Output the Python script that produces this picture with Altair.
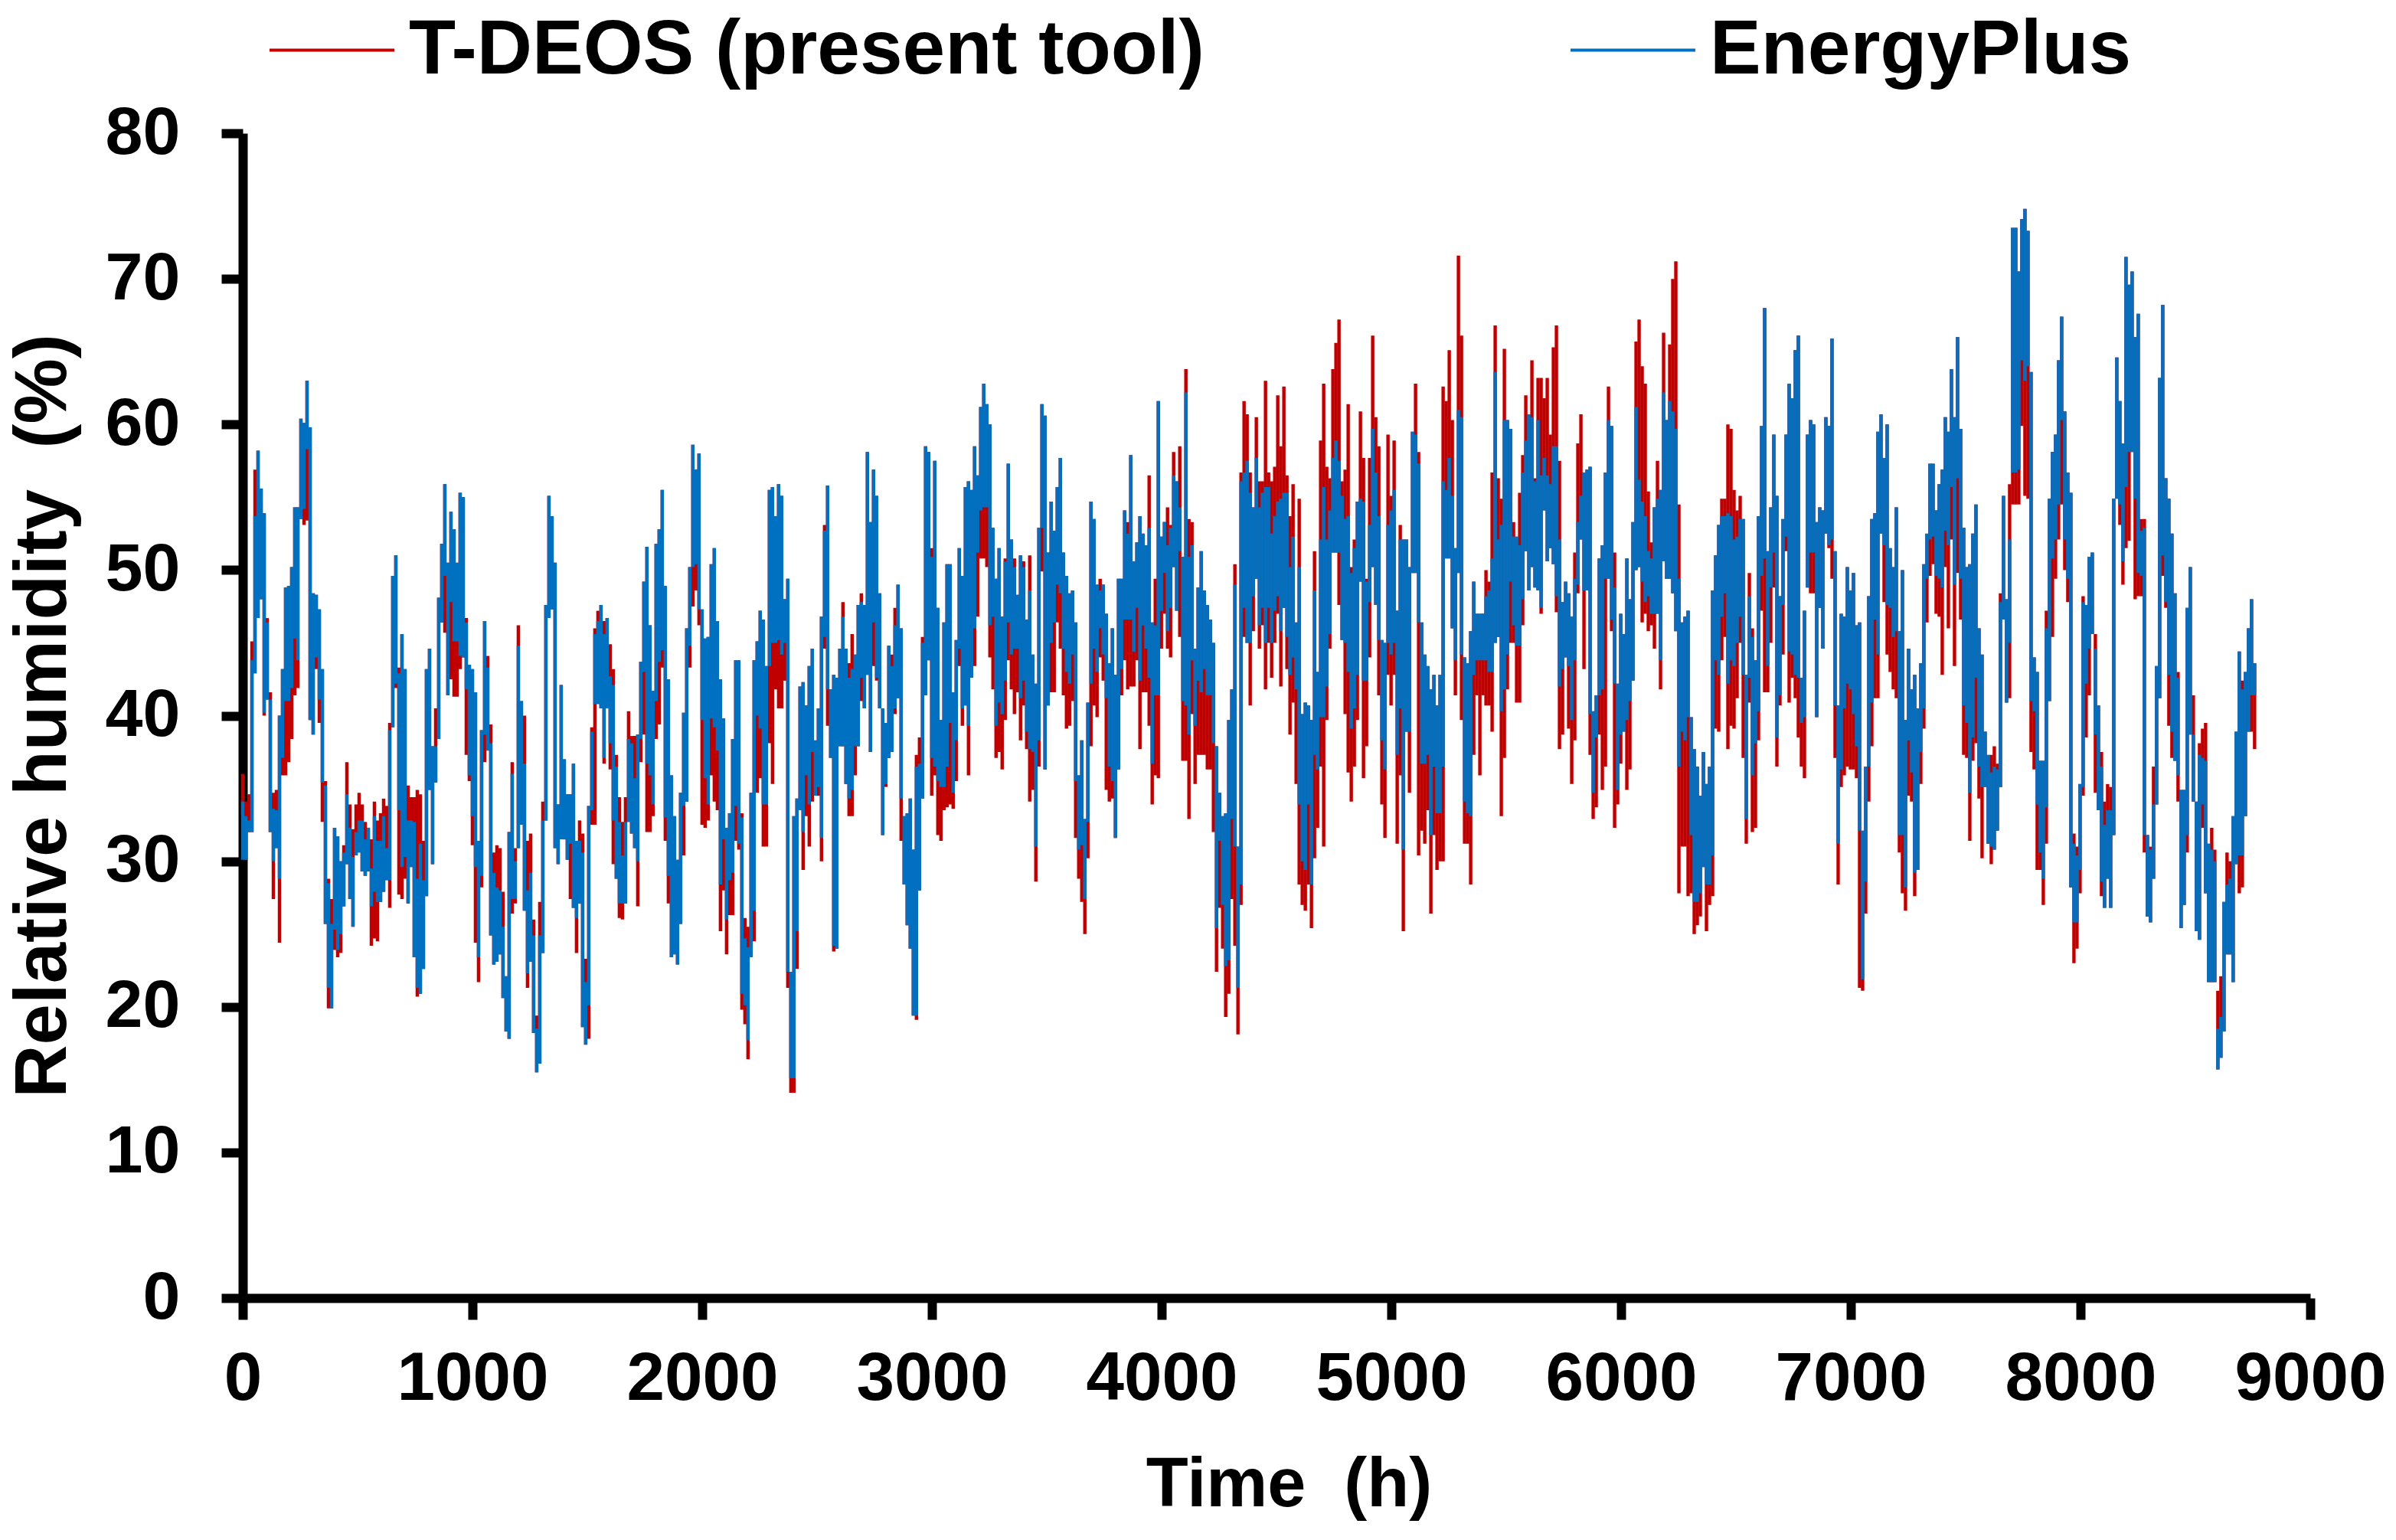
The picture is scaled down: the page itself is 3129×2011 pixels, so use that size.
import altair as alt
import pandas as pd

N = None
# each row: EnergyPlus high, EnergyPlus low, T-DEOS high, T-DEOS low (N = inside the EnergyPlus span)
seg1 = [(34.1,30.1,36,33.2),(33.1,30.1,34.1,N),(32.8,32,34.6,N),(43.8,32,45.1,N),(53.7,42.9,56.9,N),(58.2,46.7,N,N),(55.6,48,N,N),(53.9,40.2,N,40),(46.4,41.1,46.7,N),(41.1,32,41.6,N),
(33.6,30,34.7,27.4),(33.5,30.9,34.9,N),(40,28.8,N,24.4),(43.2,37.1,N,35.9),(48.8,41,N,35.9),(48.9,41,N,36.8),(50.2,41.9,N,38.4),(54.3,45.3,N,41.4),(54.3,43.8,N,41.9),(60.4,53.5,N,N),
(60.1,54.2,N,53.1),(63,58.3,N,53.4),(59.8,39.7,N,N),(48.4,38.7,N,N),(48.3,44,N,43.2),(47.3,41.1,N,39.5),(43.2,35.4,N,32.7),(35.2,25.7,35.5,N),(28.5,21.3,28.8,19.9),(25.7,19.9,27.4,N),
(32.3,25.3,N,23.9),(31.7,23.9,N,23.4),(30,25,N,23.7),(30.6,26.9,31.1,N),(34.6,29.8,36.8,N),(32.3,27.4,33.9,N),(30.3,25.5,32.2,N),(32,30.4,33.9,N),(32.8,30.6,34.7,N),(32.8,29.3,33.9,N),
(31.5,29,32.7,N),(32.3,29.3,N,N),(29.5,26.9,31.5,24.2),(33.1,27.9,34.1,24.7),(31.4,27.2,32.8,24.5),(31.4,27.2,33.3,N),(33.1,27.9,34.3,N),(30.9,28.7,33.8,N),(39,28.7,39.5,26.8),(49.6,39.2,N,N),
(51,42.2,N,41.9),(42.9,33.5,43.3,27.7),(45.6,29.6,N,27.4),(43.2,30.3,N,28.8),(32.8,27.1,35.2,N),(32.8,29.6,34.4,N),(32.7,23.4,34.4,N),(28.8,21.3,34.9,20.7),(31.2,20.9,34.6,N),(28.7,22.6,31.4,N),
(43.2,27.6,N,N),(44.6,34.9,N,N),(37.9,29.8,N,N),(37.9,35.4,40.5,N),(48.1,38.4,N,N),(51.8,46.4,N,N),(55.9,49.6,N,45.7),(50.5,41.4,N,N),(54,47.8,N,42.5),(52.8,45.1,N,41.3),
(50.5,45.1,N,41.3),(55.3,44.1,N,43.2),(55,44,N,N),(46.4,41.8,46.7,37.3),(43.5,35.9,N,35.5),(43.2,33.1,N,31.1),(41.6,29.6,N,24.4),(31.4,23.4,N,21.7),(39,29,N,28.2),(46.5,38.7,N,36.8),
(43.3,37.6,44.1,N),(38.1,24.9,39.4,N),(29.2,22.9,30.6,N),(28.2,23.1,31.1,N),(28,23.6,30.9,N)]

seg2 = [(25.5,20.6,27.9,N),(22.1,18.3,N,N),(32,17.8,N,N),(36,27.4,36.8,26.4),(30,27.4,30.9,27.1),(44.8,30.9,46.2,N),(41,32.5,N,N),(36.7,26.6,40,N),(28,22.3,31.4,21.3),(29.2,23.1,31.9,N),
(24.9,18.2,26,N),(18.5,15.5,19.4,N),(24.9,16.1,27.2,N),(32.8,23.7,34.1,N),(47.6,32.8,N,N),(55.1,46.7,N,N),(53.7,47.3,N,N),(50.5,30.9,N,N),(33.9,29.8,N,N),(42.1,31.5,N,N),
(37,31.5,N,N),(34.6,30.1,N,N),(34.6,31.2,N,27.4),(36.7,26.8,N,N),(31.4,26.1,N,23.7),(31.4,27.1,32.8,N),(30.6,18.6,31.9,N),(21.7,17.4,23.3,N),(33.8,20.1,N,17.8),(38.9,33.5,39.2,32.5),
(45.6,40.8,46,32.5),(46.5,40.8,47.2,N),(47.6,40.5,N,N),(45.6,37.1,46.5,36.7),(46.7,40.5,N,N),(42.7,38.1,44.9,36.3),(42.1,32.8,43.2,29.8),(36.5,28.8,37.3,N),(32.7,27.1,34.4,26.1),(30.4,27.1,32.7,26),
(32.7,27.1,34.4,N),(38.4,32.7,40.3,N),(38.1,31.9,38.6,N),(35.7,30.9,38.6,N),(38.7,30,N,26.9),(43.7,38.4,N,36.8),(49.2,43,N,38.7),(51.6,36.7,N,32),(46.2,35.9,N,32),(41.7,33.9,N,33.1),
(51.8,41,N,38.4),(52.8,43.7,N,39.4),(55.5,44.5,N,43.3),(48.9,33,N,31.4),(42.5,29,N,27.1),(35.9,23.4,N,N),(33.1,23.6,N,N),(30.1,22.9,N,N),(34.7,25.7,N,N),(40.2,33.8,N,30.4),
(46,34.1,N,N),(50.2,44.8,N,43.3),(58.6,50.2,N,47.5),(56.9,50.4,N,48.6),(58,47.3,N,46.2),(47.3,39.7,N,32.5),(45.3,35.7,N,32.3),(45.4,33.9,N,32.8),(50.4,39.8,N,35.9),(51.5,39.2,N,34.1),
(46.5,37.6,N,33.5),(42.5,28.4,N,25.2),(39.8,31.5,N,28),(32.3,26,N,23.6),(33.3,28.7,N,26.3),(38.4,29.2,N,26.3),(43.8,33.8,N,31.4),(43.8,31.2,N,30.8),(33,20.9,33.3,19.8),(24.7,20.1,26.1,18.8),
(24.1,17.7,25.5,16.4),(34.7,23.4,N,N),(43.8,26.6,N,24.5),(45.1,40,N,34.7)]

seg3 = [(47.2,39.1,N,35.7),(46.6,33.9,N,31),(43.4,33.9,N,31),(55.5,43.4,N,38.1),(55.7,45,N,35.3),(53.7,45,N,41.8),(55.9,45.2,N,40.5),(55.1,44.2,N,40.5),(48,45,N,42.4),(49.4,22.4,N,21.3),
(22.4,15.1,N,14.1),(33.1,15.1,N,14.1),(34.3,25.2,N,22.6),(42,33.5,N,N),(42.3,32,N,29.4),(40.7,35.9,N,33.1),(43.4,33.9,N,31),(44.6,37.5,N,34.1),(38.3,34.5,N,N),(40.5,35.1,N,34.5),
(46.8,31.6,N,30),(52.7,45.4,53.1,44.6),(55.8,41.8,N,39.3),(41.8,37.1,N,N),(42.8,24.2,N,23.8),(42.6,24,N,N),(44.6,37.9,N,N),(46.8,37.9,47.8,N),(44.6,35.3,N,N),(42.6,34.3,43.6,33.1),
(43.2,34.9,45.6,33.1),(44.2,37.9,N,35.9),(47.6,37.9,N,N),(47.8,42.6,48.4,41),(47.6,40.5,N,N),(58.1,42.8,N,N),(53.3,37.5,N,N),(56.9,46.4,N,43.4),(55.1,42.6,N,42.4),(48.4,40.5,N,N),
(40.5,31.8,N,N),(39.5,35.3,N,35.1),(44.8,37.1,N,N),(43.4,37.5,44.2,N),(46.2,40.5,47.4,40.1),(49,41.2,N,N),(46,34.3,N,31.4),(33.1,28.4,N,N),(33.3,25.6,N,N),(34.3,24,N,N),
(30.8,19.4,N,N),(36.5,19.4,37.3,19.1),(36.7,28,38.5,N),(45,34.3,45.4,N),(58.5,41.4,N,N),(58.1,43.8,N,N),(50.9,37.1,51.5,34.5),(57.5,36.5,N,35.9),(47.4,35.5,N,31.8),(39.7,35.1,N,31.4),
(46.4,35.1,N,33.5),(50.4,36.5,N,33.7),(50.4,39.5,N,33.9),(41.6,34.7,N,33.6),(45.2,38.3,N,35.5),(51.5,44.6,N,43.4),(49.6,40.5,N,39.3),(55.7,40.7,N,N),(56.1,39.3,N,35.9),(55.5,42.6,N,N),
(58.5,46,N,43.4),(56.5,51.2,N,46.8),(61.2,54.1,N,50.8),(62.8,54.3,N,50.8),(61.4,54.3,N,50.2),(60,46.2,N,44),(52.9,46.8,N,41.8),(49.4,39.3,N,37.1),(51.5,40.9,N,37.5),(46.8,40.1,N,36.3),
(50.6,42.4,50.8,39.7),(57.3,46.4,N,43.8),(52.1,44.2,N,41.8),(50.2,44.6,50.8,40.1),(48.3,44.6,N,41.6),(51,41.2,N,38.3),(50.2,42.4,50.6,40.7),(46.6,38.9,N,37.7),(48.6,37.7,51,34.1),(44.2,37.5,N,34.9),
(42.2,31,N,28.6),(52.9,38.3,N,36.5),(61.4,52.9,N,49.9),(60.6,36.3,N,N),(51.2,40.7,N,N),(54.7,45,N,41.6),(52.7,46.4,N,41.6),(55.7,49,N,46.4),(57.7,48.4,N,44.6),(51.2,44.6,N,41.4),
(49.6,43,N,39.1),(48.4,42.2,N,39.3),(48.6,44.2,N,41),(46.4,35.5,N,31.6),(35.9,30.8,N,28.8),(38.3,31.1,N,27.2),(32.9,27.4,N,25),(40.9,32.7,N,30.2),(54.7,42.2,N,37.9),(53.5,44.6,N,40.7),
(49,43,N,39.9),(48.6,46,49.4,44),(49,44.2,N,42.4),(47,41.2,N,34.9),(43.6,36.5,N,34.1),(46,35.5,N,34.3),(42.8,31.6,N,N),(49.4,36.3,N,N),(49.4,43.2,N,41.4),(54.1,46.6,N,43.8),
(52.5,46.6,53.3,41.8),(57.9,46.6,N,42),(50.6,44.4,N,42)]

seg4 = [(51.9,47.4,N,43.8),(53.7,42.4,N,37.7),(52.5,46.2,N,41.6),(51.7,44.6,N,41.6),(52.9,42.6,56.5,39.3),(46.4,36.7,N,33.9),(46.2,41.4,49.4,35.9),(61.6,41.4,N,35.7),(52.3,47.2,N,44.6),(53.3,49.8,N,47),
(51.7,45.8,54.3,44.6),(52.9,47.4,53.1,44),(56.5,50.2,58.1,N),(56.1,47.2,N,N),(54.3,51.3,58.5,45.4),(50.9,41,N,36.9),(62.2,40.7,63.8,36.9),(50.9,38.7,53.5,32.9),(51.7,43.8,53.3,40.1),(44.6,39.3,N,35.3),
(48.8,42.4,N,37.3),(51.3,41.6,N,37.3),(48.6,43.2,N,37.3),(47.6,41.4,N,36.3),(46.6,41.4,N,36.3),(45,38.1,N,32),(37.9,25.4,N,22.4),(34.7,31.4,N,26.8),(33.1,27,N,24),(33.3,22.8,N,19.3),
(39.7,23.2,N,20.9),(41.8,32.9,N,27.4),(49,31,50.4,24.2),(31,21.3,N,18.1),(56.1,28.4,56.7,27),(56.7,47.4,61.6,45.4),(57.5,45,60.7,N),(55.3,45,56.7,40.7),(54.3,48.2,N,45.8),(57.7,49.4,60.5,N),
(54.3,46.2,56.1,44.6),(55.3,47.4,56.1,46.2),(55.7,45,63,41.8),(55.7,47.4,56.7,45),(52.5,45,56.1,42.6),(53.7,47.2,57.1,45),(54.7,48.2,62,47),(54.9,45.8,58.5,42),(55.3,47.4,62.6,N),(55.3,45.4,56.5,43.2),
(50.2,42.8,53.7,38.7),(52.3,44,55.9,40.9),(46.4,41.8,N,35.3),(50.2,33.9,54.9,28.4),(40.1,30,N,27),(40.9,29.4,N,26.6),(40.7,33.9,N,28.4),(39.7,28.4,N,25.4),(48.6,37.3,51.3,30.2),(43,36.3,N,32.3),
(52.1,39.9,58.9,36.5),(55.7,39.9,62.8,31),(52.1,42,57.1,39.7),(54.1,45.6,56.3,44.6),(57.7,51.2,63.8,N),(58.9,51.2,65.6,N),(57.5,51.2,67.2,47.6),(55.1,45.2,56.1,N),(53.5,45,56.9,40.1),(53.7,43,61.4,36.1),
(49.8,39.1,50.2,34.1),(51.5,40.5,52.1,36.5),(54.7,42.8,N,39.7),(54.9,49.2,60.9,N),(54.7,42.4,57.7,35.7),(49.2,42.4,49.4,37.9),(53.1,47.8,57.7,44),(59.7,50.2,66.1,N),(56.7,47.6,60.5,N),(53.7,45.2,58.5,41.4),
(45.2,38.3,N,33.9),(45,36.3,N,31.6),(53.1,45,59.3,42.8),(54.1,44.2,55.1,40.7),(55.5,45,58.9,42.8),(47.2,37.3,N,31.2),(52.1,40.5,53.1,35.9),(52.1,30.8,N,25.2),(52.1,38.9,N,N),(50.2,38.9,N,34.7),
(59.5,49.8,N,N),(59.3,49.8,62.8,N),(57.3,46.4,58.1,30.4),(46.4,36.7,N,32.1),(44.2,36.7,N,31.2),(43.4,37.3,N,33.5),(41.8,31.8,N,26.4),(42.8,36.5,N,31.8),(40.7,33.3,N,29.4),(42.8,33.3,N,30),
(56.1,36.5,62.6,30),(55.5,50.8,61.6,N),(57.7,50.8,65.1,N),(55.1,46,60.3,N),(51.5,43.8,N,41.4),(61,49.8,71.6,N),(60.5,44.2,66.1,39.7),(44,34.1,N,31.2),(43.6,33.3,N,31.2),(45.8,33.1,N,28.4),
(49.2,42.8,N,37.3),(47,43.8,N,41.4),(47,43.8,N,35.9),(47,43.8,N,41.4),(48.2,43.8,50,40.7),(48.6,43,49.2,40.7),(50.8,43,56.7,38.9),(63.6,45,66.8,N),(52.1,45.4,56.3,N),(53.1,40.3,54.9,33.1),
(60.3,41.8,65.2,37.1),(60.3,44.2,N,41.8),(59.7,49.2,N,45)]

seg5 = [(52.3,46.2,53.3,45),(52.3,44.8,N,40.9),(51.7,44.8,55.3,40.9),(56.7,48,57.9,46.2),(58.9,51.3,62,N),(60.7,48.6,N,N),(60.5,50.2,64.4,N),(56.1,48.8,56.3,N),(60.3,48.6,63.2,N),(56.5,47.4,63.2,47),
(57.7,54.1,61.8,N),(56.5,50.6,63.2,N),(55.9,51.5,59.3,N),(58.5,50.4,65.3,N),(58.5,48.2,66.8,47.1),(52.1,42,57.5,37.7),(47.8,43.2,N,38.7),(49.2,44,N,N),(48.4,43.4,N,39.1),(46.8,39.7,N,35.3),
(49.4,43.8,51.2,38.3),(53.3,49,58.7,48.4),(55.1,52.1,60.7,N),(56.7,48.6,N,43.2),(56.9,48.6,N,N),(57.1,40.1,N,37.3),(40.3,34.7,N,32.9),(41.4,38.5,N,33.7),(50.8,41.4,N,38.7),(51.7,41.8,N,34.9),
(56.7,49.4,N,36.5),(60.3,49.4,62.6,N),(59.9,46.6,N,45.8),(48.8,42.2,51.2,32.3),(42.2,34.9,N,33.9),(47,38.7,N,36.7),(45.6,38.9,N,N),(50.8,39.7,N,34.9),(48,41,N,36.3),(53.3,42.4,N,N),
(61.2,50,65.7,N),(56.2,50.2,67.2,N),(54.7,49.2,64,46.4),(53.7,47.8,62.8,47),(51.3,48.2,55.4,45.8),(50.8,47,51.9,46.2),(54.3,47,N,44.6),(54.9,47,57.5,N),(55.5,43.8,N,41.8),(62.2,50.6,66.3,N),
(60.3,49.4,N,N),(61.6,49.4,65.5,N),(60.9,48.4,70,N),(59.7,45.8,71.2,N),(49.4,36.5,54.5,27.8),(46.4,38.9,N,31),(46.8,38.3,N,31),(47.2,39.9,N,27.6),(39.9,31.8,N,27.8),(37.7,27.2,N,25),
(36.5,27.2,N,25.6),(34.5,27.8,N,26.2),(37.5,29.6,N,N),(35.3,28.4,N,25.2),(36.5,28.4,N,27),(48.6,30.4,N,27.6),(51,43.8,N,39.1),(53.1,42.8,N,38.9),(53.7,46.8,54.9,43.8),(53.7,48.4,54.9,45.4),
(53.9,42.2,60,37.7),(53.7,43.8,59.7,39.3),(52.1,43.4,55.5,39.1),(52.3,45,54.1,41.2),(53.5,46.8,55.1,45),(53.5,42.8,N,37.1),(42.8,32.9,N,31.2),(48.2,42.6,49.8,40.9),(45.4,35.9,46,32),(43.8,38.1,N,32.3),
(53.7,40.3,N,38.3),(59.9,49.6,N,47.2),(68,50.8,N,41.6),(51.3,43.4,N,41.6),(54.3,48.8,N,45),(59.3,51.2,N,48.8),(55.1,38.5,N,36.5),(48.2,41.4,N,40.7),(53.5,47.6,N,44.2),(59.3,52.3,N,51.3),
(62.8,44.4,N,40.9),(61.8,44.2,N,42.6),(65.1,42.8,N,41.2),(66.1,42.6,N,38.5),(42.6,39.5,N,36.5),(47.2,39.9,N,35.7),(59.3,48.8,N,N),(60.3,51.2,N,48.4),(60,51.2,N,48.4),(53.3,39.9,N,N),
(54.3,47.4,N,N),(54.1,44.6,N,N),(60.5,52.5,N,N),(59.9,51.7,N,51.5),(65.9,52.1,N,49.4),(51.3,40.7,N,37.1),(40.7,31.2,N,28.4),(47,36.3,N,35.1),(46.8,40.5,N,35.9),(50.2,42.2,N,36.5),
(48.6,41.8,N,36.3),(49.8,40.1,N,36.3),(46.2,37.9,N,35.7),(46.4,32.1,N,21.3),(32.1,21.9,N,21.1),(36.5,28.6,N,26.4),(48.2,36.5,N,34.1),(53.5,40.9,N,37.9),(53.9,46.6,N,41.2),(59.5,44.2,N,41.2),
(60.7,52.5,N,N),(57.7,51.7,N,47.8),(60,47.6,N,44.2)]

seg6 = [(51.5,47.4,N,43),(50.2,45.4,N,41.8),(54.3,45.8,N,41.2),(45.8,31.8,N,30.6),(50,31.8,N,27.8),(39.7,28.2,N,26.6),(44.6,38.3,N,34.5),(41.8,36.1,N,34.1),(42.8,29.2,N,27.6),(40.5,29.4,N,N),
(43.6,37.5,N,35.3),(50.4,40.5,N,39.1),(52.5,49.4,N,46.4),(57.3,52.1,N,49.6),(57.3,52.3,N,50.4),(54.1,49.6,N,47),(55.9,49.4,N,46.8),(56.9,48.8,N,42.8),(60.5,52.7,N,50.2),(59.5,51.7,N,46),
(63.8,55.7,N,52.1),(60.5,49,N,43.4),(66,56.3,N,49.8),(59.7,49.4,N,46.6),(52.9,40.7,N,37.3),(50.2,39.5,N,37.1),(50.4,34.7,N,31.4),(52.5,38.5,N,36.9),(54.5,42.6,N,38.1),(46,36.5,N,34.3),
(44.2,35.1,N,30.2),(38.9,35.1,N,N),(37.3,31.2,N,N),(36.1,31,37.3,29.8),(36.5,30.8,37.9,N),(36.3,32.1,36.7,N),(47.8,35.1,48.4,N),(55.1,46.6,N,N),(48,40.9,N,N),(52.1,45,55.9,41.2),
(73.5,56.7,N,54.5),(73.5,56.7,N,54.5),(70.5,56.9,N,54.5),(74.1,64.4,N,59.9),(74.8,63,N,55.1),(73.3,64,N,54.9),(63.6,41,N,37.5),(44,40.3,N,36.3),(43,33.9,N,29.4),(36.9,30.6,N,29.4),
(36.9,28.8,N,27),(46,33.7,47.2,31.2),(54.9,41,N,N),(58.1,50.8,N,45.4),(59.3,52.1,N,49.4),(64.4,54.5,N,52.1),(67.4,60.3,N,54.5),(60.9,52.1,N,50),(56.7,49.4,N,47.8),(55.3,28.2,N,N),
(31.2,25.8,31.9,23),(30.4,25.8,31,24),(35.3,29.4,N,27.8),(47.8,35.1,48.2,34.5),(47.6,42.2,N,38.5),(50.9,44.6,N,41.4),(51.2,45.6,N,N),(44.6,38.7,45.6,34.7),(40.7,33.5,N,N),(36.5,28.6,37.5,27.6),
(32.5,26.8,34.1,N),(33.5,28.8,35.3,N),(33.5,26.8,35.1,N),(54.9,31.8,N,N),(64.6,54.9,N,N),(61.6,54.5,N,53.1),(58.7,50.6,N,49),(71.5,55.7,N,51.5),(69.6,58.1,N,52),(70.5,58.1,N,N),
(66,54.9,N,48),(67.6,49.8,N,48.2),(52.7,49.6,53.5,48.2),(52.9,31.8,53.5,30.6),(31.8,26.2,N,N),(30.8,25.8,31,N),(33.9,28.8,36.5,N),(43.4,33.9,N,N),(63.2,41.2,N,N),(68.2,51,N,49.6),
(56.3,47.8,N,47.4),(54.9,42.8,N,39.3),(52.5,38.9,N,37.1),(48.4,36.9,N,N),(42.6,35.9,43,34.1),(34.9,25.4,N,N),(34.9,27,N,N),(47.4,31.8,N,30.6),(50.2,38.7,N,N),(38.7,34.1,41.4,N),
(34.1,25.2,N,N),(37.3,24.6,38.1,N),(37.1,33.9,39.1,32.3),(36.9,27.8,39.5,N),(31.2,21.7,N,N),(30.8,21.7,32.3,N),(30,21.7,30.8,N),(18.5,15.7,21.1,N),(19.3,16.5,22.1,N),(27.2,18.3,N,N),
(28.4,23.6,30.6,N),(28.8,23.6,30,N),(33.1,21.7,N,N),(38.9,29.8,N,N),(44.4,30.4,N,27.8),(41.8,30.4,42.4,28.2),(43,33.1,N,N),(46,38.9,N,N),(48,41.4,N,38.9),(43.6,41.4,N,37.7)]

x_ticks = [0, 1000, 2000, 3000, 4000, 5000, 6000, 7000, 8000, 9000]
y_ticks = [0, 10, 20, 30, 40, 50, 60, 70, 80]
series_names = ["T-DEOS (present tool)", "EnergyPlus"]
series_colors = ["#C00000", "#0070C0"]

rows = seg1 + seg2 + seg3 + seg4 + seg5 + seg6
HOURS_PER_COLUMN = 13.33
red, blue = [], []
for k, (bh, bl, rh, rl) in enumerate(rows):
    h = k * HOURS_PER_COLUMN
    blue.append({"t": h, "hi": bh, "lo": bl, "s": series_names[1]})
    red.append({"t": h, "hi": bh if rh is None else rh, "lo": bl if rl is None else rl, "s": series_names[0]})
df = pd.DataFrame(red + blue)

FONT = "Liberation Sans"
chart = (
    alt.Chart(df)
    .mark_rule(strokeWidth=4.4)
    .encode(
        x=alt.X("t:Q", scale=alt.Scale(domain=[0, 9000], nice=False),
                axis=alt.Axis(values=x_ticks, format="d", title="Time\u00a0\u00a0(h)", grid=False,
                              labelFlush=False, labelOverlap=False, labelLimit=500,
                              domainWidth=12, domainColor="black", tickWidth=12, tickColor="black", tickSize=28,
                              labelFont=FONT, labelFontWeight="bold", labelFontSize=89, labelColor="black", labelPadding=34,
                              titleFont=FONT, titleFontWeight="bold", titleFontSize=90, titleColor="black", titlePadding=50,
                              titleX=1366)),
        y=alt.Y("hi:Q", scale=alt.Scale(domain=[0, 80], nice=False),
                axis=alt.Axis(values=y_ticks, format="d", title="Relative humidity\u00a0\u00a0(%)", grid=False,
                              labelFlush=False, labelOverlap=False, labelLimit=500,
                              domainWidth=12, domainColor="black", tickWidth=12, tickColor="black", tickSize=28,
                              labelFont=FONT, labelFontWeight="bold", labelFontSize=88, labelColor="black", labelPadding=54,
                              titleFont=FONT, titleFontWeight="bold", titleFontSize=96, titleColor="black", titlePadding=32)),
        y2=alt.Y2("lo:Q"),
        color=alt.Color("s:N", scale=alt.Scale(domain=series_names, range=series_colors),
                        legend=alt.Legend(title=None, orient="none", legendX=33, legendY=-192, columns=2,
                                          symbolType="stroke", symbolSize=26569, symbolStrokeWidth=4,
                                          labelFont=FONT, labelFontWeight="bold", labelFontSize=100, labelColor="black",
                                          labelOffset=17, columnPadding=470, labelLimit=1400, gridAlign="none")),
    )
    .properties(width=2700, height=1521,
                padding={"left": 309, "top": 166, "right": 104, "bottom": 300},
                autosize=alt.AutoSizeParams(type="none"))
    .configure_view(stroke=None)
)
chart.save("out.html", embed_options={"renderer": "svg", "actions": False})
